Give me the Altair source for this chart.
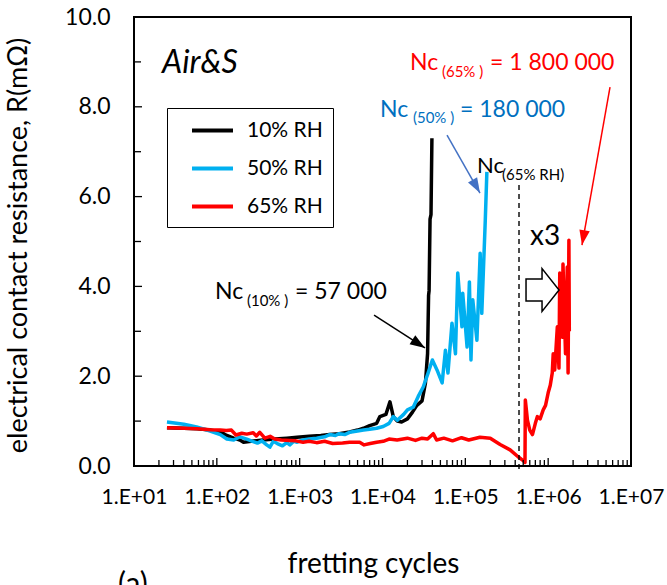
import altair as alt
import pandas as pd

FONT = "Lato"

# ---- data ----
series_names = ["10% RH", "50% RH", "65% RH"]
series_colors = ["#000000", "#00B0F0", "#FF0000"]

n10 = [25, 40, 58, 83, 110, 132, 160, 190, 210, 260,
       360, 500, 700, 930, 1300, 1800, 2300, 3000, 4000, 5000,
       5900, 7000, 8500, 9300, 11000, 12300, 13500, 15100, 17000, 20000,
       23000, 26000, 30000, 33000, 35000, 36000, 36500, 37500, 38500, 39500]
r10 = [0.85, 0.84, 0.83, 0.80, 0.76, 0.68, 0.62, 0.58, 0.53, 0.55,
       0.58, 0.60, 0.62, 0.64, 0.66, 0.68, 0.70, 0.72, 0.76, 0.80,
       0.84, 0.90, 0.95, 1.10, 1.15, 1.43, 1.10, 1.00, 0.98, 1.05,
       1.20, 1.35, 1.45, 1.85, 2.50, 3.80, 3.90, 5.50, 5.60, 7.30]

n50 = [25, 40, 57, 83, 110, 132, 160, 190, 230, 270,
       309, 350, 400, 437, 480, 537, 620, 700, 760, 850,
       933, 1100, 1300, 1600, 2000, 2300, 2700, 3000, 3500, 4000,
       5000, 5900, 7000, 8500, 10200, 12000, 13500, 15100, 18000, 20000,
       23500, 27000, 31000, 35500, 40000, 45500, 52500, 57500, 61700, 69000,
       76000, 81000, 91000, 93000, 105000, 112000, 117000, 123000, 138000, 151000,
       158000, 174000, 182000]
r50 = [0.98, 0.93, 0.87, 0.78, 0.70, 0.60, 0.58, 0.65, 0.60, 0.55,
       0.51, 0.56, 0.47, 0.42, 0.55, 0.50, 0.45, 0.52, 0.47, 0.55,
       0.53, 0.58, 0.60, 0.62, 0.65, 0.70, 0.68, 0.72, 0.70, 0.75,
       0.78, 0.80, 0.82, 0.84, 0.88, 0.95, 1.10, 1.02, 1.15, 1.25,
       1.31, 1.55, 1.76, 2.07, 2.36, 2.14, 1.85, 2.58, 2.07, 3.18,
       2.50, 4.30, 3.10, 3.85, 2.65, 4.10, 2.36, 3.70, 2.80, 4.74,
       3.40, 5.46, 6.55]

n65 = [25, 40, 58, 83, 110, 130, 150, 170, 200, 230,
       275, 300, 330, 380, 440, 500, 600, 760, 900, 1100,
       1300, 1600, 2000, 2500, 3300, 4000, 5300, 6000, 7100, 8500,
       10200, 12000, 15000, 20000, 25000, 30000, 35000, 41000, 45000, 55000,
       70000, 90000, 110000, 150000, 200000, 263000, 347000, 437000, 500000, 525000,
       530000, 562000, 600000, 646000, 700000, 741000, 800000, 871000, 930000, 1000000,
       1060000, 1120000, 1150000, 1200000, 1290000, 1350000, 1380000, 1480000, 1510000, 1620000,
       1700000, 1740000, 1780000, 1800000]
r65 = [0.85, 0.84, 0.83, 0.81, 0.80, 0.79, 0.80, 0.69, 0.73, 0.71,
       0.74, 0.67, 0.75, 0.62, 0.66, 0.60, 0.58, 0.57, 0.56, 0.53,
       0.55, 0.52, 0.55, 0.50, 0.51, 0.53, 0.53, 0.47, 0.50, 0.53,
       0.55, 0.60, 0.58, 0.62, 0.57, 0.62, 0.60, 0.72, 0.58, 0.62,
       0.56, 0.63, 0.58, 0.64, 0.62, 0.48, 0.36, 0.20, 0.12, 0.08,
       1.47, 1.02, 0.80, 0.70, 0.95, 1.10, 1.05, 1.25, 1.35, 1.63,
       1.80, 2.07, 2.50, 2.14, 3.10, 2.18, 4.30, 2.87, 4.50, 2.50,
       4.43, 2.07, 5.03, 3.00]

x_tick_labels = [10, 100, 1000, 10000, 100000, 1000000, 10000000]
x_minor = [m * d for d in [10, 100, 1000, 10000, 100000, 1000000] for m in range(2, 10)]
y_major = [0, 2, 4, 6, 8, 10]
y_minor = [1, 3, 5, 7, 9]

# critical cycles marker (dashed line) at ~4.45e5 cycles
nc_line_n = 444600

# annotation texts: text, cycles, resistance (data position), colour, font size
ann_text = ["Nc", "(65% )", "= 1 800 000",
            "Nc", "(50% )", "= 180 000",
            "Nc", "(65% RH)",
            "Nc", "(10% )", "= 57 000",
            "x3"]
ann_n = [21500, 52200, 198600,
         9330, 23300, 86300,
         138400, 277400,
         95, 231, 879,
         604000]
ann_r = [8.82, 8.66, 8.82,
         7.77, 7.64, 7.77,
         6.53, 6.37,
         3.72, 3.56, 3.72,
         4.92]
ann_color = ["#FF0000"] * 3 + ["#0070C0"] * 3 + ["#000000"] * 6
ann_size = [23, 15, 23, 23, 15, 23, 22, 15, 23, 15, 23, 28]

# arrows: start (cycles, R) -> tip (cycles, R)
arr_x1 = [7907, 60100, 5580000]
arr_y1 = [3.36, 7.37, 8.44]
arr_x2 = [32600, 150300, 2560000]
arr_y2 = [2.63, 6.08, 4.92]
arr_angle = [122.9, 150.4, 190.0]
arr_color = ["#000000", "#4472C4", "#FF0000"]

# ---- tables ----
frames = []
for name, ns, rs in [("10% RH", n10, r10), ("50% RH", n50, r50), ("65% RH", n65, r65)]:
    frames.append(pd.DataFrame({"N": ns, "R": rs, "series": name, "idx": range(len(ns))}))
curves = pd.concat(frames, ignore_index=True)

ticks_x = pd.DataFrame({
    "N": x_tick_labels + x_minor,
    "R": [0.0] * (len(x_tick_labels) + len(x_minor)),
    "R2": [0.178] * len(x_tick_labels) + [0.134] * len(x_minor),
})
ticks_y = pd.DataFrame({
    "N": [10] * (len(y_major) + len(y_minor)),
    "N2": [12.5] * len(y_major) + [12.15] * len(y_minor),
    "R": y_major + y_minor,
})
ann = pd.DataFrame({"t": ann_text, "N": ann_n, "R": ann_r, "c": ann_color, "s": ann_size})
arrows = pd.DataFrame({"N": arr_x1, "R": arr_y1, "N2": arr_x2, "R2": arr_y2,
                       "a": arr_angle, "c": arr_color})

x_scale = alt.Scale(type="log", domain=[10, 1e7])
y_scale = alt.Scale(domain=[0, 10])

x_axis = alt.Axis(values=x_tick_labels,
                  labelExpr="'1.E+0' + round(log(datum.value) / LN10)",
                  tickSize=0, domain=False, grid=False, labelFlush=False,
                  labelOverlap=False, labelFont=FONT, labelFontSize=21,
                  labelColor="black", labelPadding=20,
                  title="fretting cycles", titleFont=FONT, titleFontSize=28,
                  titleFontWeight="normal", titleColor="black",
                  titleX=239, titleY=106, titleBaseline="alphabetic")
y_axis = alt.Axis(values=y_major, format=".1f", tickSize=0, domain=False,
                  grid=False, labelFont=FONT, labelFontSize=23,
                  labelColor="black", labelPadding=24,
                  title="electrical contact resistance, R(m\u03a9)",
                  titleFont=FONT, titleFontSize=27, titleFontWeight="normal",
                  titleColor="black", titleX=-116, titleY=228,
                  titleAlign="center", titleBaseline="middle")


def X(field="N"):
    return alt.X(f"{field}:Q", scale=x_scale, axis=x_axis)


def Y(field="R"):
    return alt.Y(f"{field}:Q", scale=y_scale, axis=y_axis)


lines = alt.Chart(curves).mark_line(strokeWidth=3.5, strokeJoin="round").encode(
    x=X(), y=Y(),
    color=alt.Color("series:N",
                    scale=alt.Scale(domain=series_names, range=series_colors),
                    legend=alt.Legend(orient="none", legendX=33, legendY=91, title=None,
                                      symbolType="M-2,0 L2,0", symbolSize=420,
                                      symbolStrokeWidth=4, labelFont=FONT,
                                      labelFontSize=21, labelColor="black",
                                      labelOffset=22, symbolOffset=23, padding=10,
                                      rowPadding=15, strokeColor="black",
                                      fillColor="white")),
    order=alt.Order("idx:Q"),
)

xt = alt.Chart(ticks_x).mark_rule(color="black", strokeWidth=1.3).encode(
    x=X(), y=Y(), y2="R2:Q")
yt = alt.Chart(ticks_y).mark_rule(color="black", strokeWidth=1.3).encode(
    x=X(), x2="N2:Q", y=Y())

dashed = alt.Chart(pd.DataFrame({"N": [nc_line_n], "R": [6.26], "R2": [-0.12]})).mark_rule(
    color="black", strokeWidth=1.4, strokeDash=[5, 4]).encode(x=X(), y=Y(), y2="R2:Q")

texts = alt.Chart(ann).mark_text(font=FONT, align="left", baseline="alphabetic").encode(
    x=X(), y=Y(), text="t:N",
    color=alt.Color("c:N", scale=None),
    size=alt.Size("s:Q", scale=None))

title_air = alt.Chart(pd.DataFrame({"N": [21.8], "R": [8.75], "t": ["Air&S"]})).mark_text(
    font=FONT, fontStyle="italic", fontSize=32, align="left", baseline="alphabetic",
    color="black").encode(x=X(), y=Y(), text="t:N")

arrow_lines = alt.Chart(arrows).mark_rule(strokeWidth=1.5).encode(
    x=X(), y=Y(), x2="N2:Q", y2="R2:Q", color=alt.Color("c:N", scale=None))
arrow_heads = alt.Chart(arrows).mark_point(
    shape="M0,0 L0.7,2 L-0.7,2 Z", filled=True, size=225, opacity=1, strokeWidth=0).encode(
    x=X("N2"), y=Y("R2"), angle=alt.Angle("a:Q", scale=None),
    color=alt.Color("c:N", scale=None))

block = alt.Chart(pd.DataFrame({"N": [855000], "R": [3.92]})).mark_point(
    shape="M-1,-0.67 L-0.03,-0.67 L-0.03,-1.3 L1,0 L-0.03,1.3 L-0.03,0.67 L-1,0.67 Z",
    filled=True, fill="white", stroke="black", strokeWidth=1.5, size=1089, opacity=1
).encode(x=X(), y=Y())

panel = alt.Chart(pd.DataFrame({"t": ["(a)"]})).mark_text(
    font=FONT, fontSize=30, align="left", baseline="alphabetic", color="black"
).encode(x=alt.value(-16), y=alt.value(577), text="t:N")

chart = alt.layer(
    lines, xt, yt, dashed, arrow_lines, arrow_heads, block, texts, title_air, panel
).properties(
    width=497, height=449,
    autosize=alt.AutoSizeParams(type="none"),
    padding={"left": 134, "top": 17, "right": 36, "bottom": 119},
    background="white",
).configure_view(stroke="black", strokeWidth=2)

chart.save("out.html", embed_options={"renderer": "svg", "actions": False})
